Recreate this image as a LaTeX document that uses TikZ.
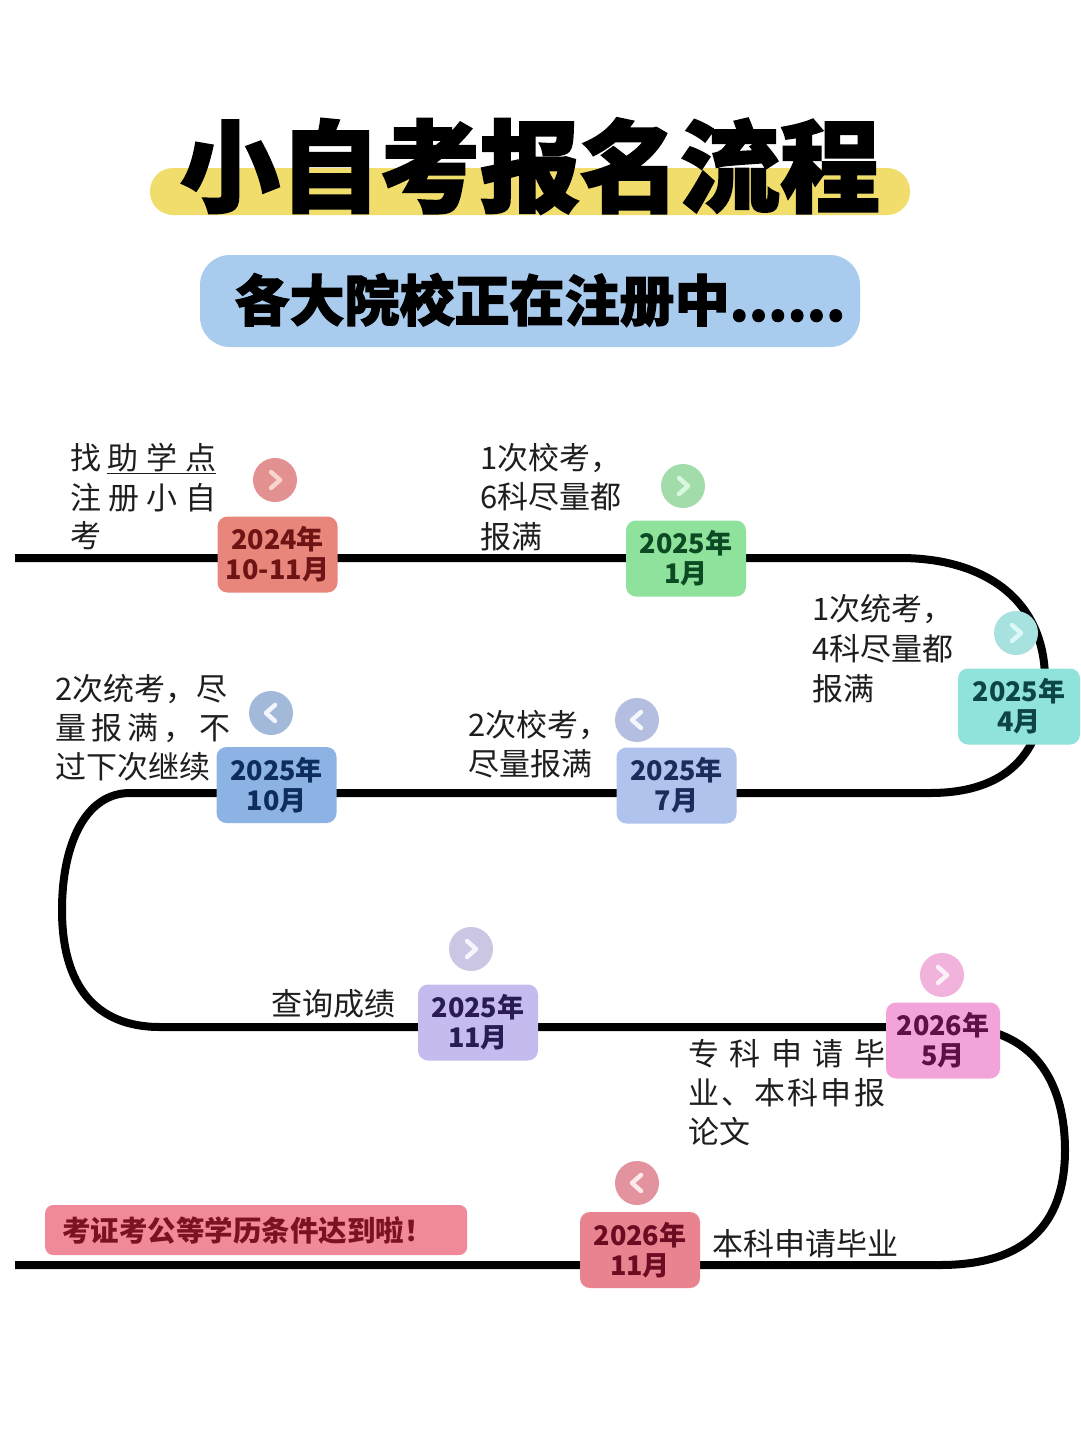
\documentclass[tikz,border=0pt]{standalone}
\usepackage{fontspec}
\setmainfont{Noto Sans CJK SC}
\newfontfamily\titlefont{Noto Sans CJK SC}[BoldFeatures={FakeBold=2}]
\definecolor{labelc}{HTML}{1E1E1E}
\definecolor{titleyellow}{HTML}{F0DD6B}
\definecolor{subblue}{HTML}{A9CCEE}
\definecolor{boxA}{HTML}{E8867C}\definecolor{txtA}{HTML}{6E1414}\definecolor{dotA}{HTML}{E29090}\definecolor{chvA}{HTML}{F8D6CE}
\definecolor{boxB}{HTML}{8EE29C}\definecolor{txtB}{HTML}{0B4A22}\definecolor{dotB}{HTML}{A2DCAA}\definecolor{chvB}{HTML}{DAF8DE}
\definecolor{boxC}{HTML}{8FE3DA}\definecolor{txtC}{HTML}{0D4444}\definecolor{dotC}{HTML}{A8E2E0}\definecolor{chvC}{HTML}{DDF8F8}
\definecolor{boxD}{HTML}{AFC3EC}\definecolor{txtD}{HTML}{1B2B5B}\definecolor{dotD}{HTML}{B3BEE0}\definecolor{chvD}{HTML}{F4F6FC}
\definecolor{boxE}{HTML}{8DB3E5}\definecolor{txtE}{HTML}{0E2C5E}\definecolor{dotE}{HTML}{A3B9D9}\definecolor{chvE}{HTML}{F2F6FC}
\definecolor{boxF}{HTML}{C5BBEF}\definecolor{txtF}{HTML}{2B1B55}\definecolor{dotF}{HTML}{CAC6E4}\definecolor{chvF}{HTML}{F6F4FC}
\definecolor{boxG}{HTML}{F2A3DA}\definecolor{txtG}{HTML}{5E0F45}\definecolor{dotG}{HTML}{F1B3DC}\definecolor{chvG}{HTML}{FCEFF8}
\definecolor{boxH}{HTML}{E8838F}\definecolor{txtH}{HTML}{6C0B22}\definecolor{dotH}{HTML}{E2939D}\definecolor{chvH}{HTML}{FBE9EC}
\definecolor{bannerc}{HTML}{F0899A}\definecolor{bannertxt}{HTML}{7A1222}
\tikzset{
  road/.style={line width=8pt, draw=black, line join=round},
  datebox/.style={rounded corners=10pt, minimum width=120pt, minimum height=76pt, inner sep=0pt, align=center, font=\bfseries\fontsize{27}{30}\selectfont},
  dotc/.style={circle, minimum size=44pt, inner sep=0pt},
  chev/.style={line width=4.5pt, line cap=round, line join=round},
  lbl/.style={anchor=base west, inner sep=0pt, text=labelc, font=\fontsize{31}{39}\selectfont},
}
\newcommand{\chevR}[2]{\draw[chev, draw=#2] ([shift={(-4,-8)}]#1.center) -- ([shift={(5,0)}]#1.center) -- ([shift={(-4,8)}]#1.center);}
\newcommand{\chevL}[2]{\draw[chev, draw=#2] ([shift={(4,-8)}]#1.center) -- ([shift={(-5,0)}]#1.center) -- ([shift={(4,8)}]#1.center);}
\begin{document}
\begin{tikzpicture}[x=1pt,y=-1pt]
\useasboundingbox[fill=white] (0,0) rectangle (1080,1440);
% title
\node (band) [fill=titleyellow, rounded corners=23pt, minimum width=760pt, minimum height=47pt, inner sep=0pt] at (530,191.5) {};
\node (title) [inner sep=0pt, font=\titlefont\bfseries\fontsize{100}{100}\selectfont] at (530,166) {小自考报名流程};
\node (sub) [fill=subblue, rounded corners=30pt, minimum width=660pt, minimum height=92pt, inner sep=0pt] at (530,301) {};
\node (subtxt) [inner sep=0pt, font=\titlefont\bfseries\fontsize{55}{55}\selectfont] at (540,300) {各大院校正在注册中......};
% road
\draw[road] (15,558) -- (900,558) .. controls (985,558) and (1045,600) .. (1045,680)
  .. controls (1045,755) and (1005,793) .. (930,793) -- (130,793)
  .. controls (85,793) and (62,845) .. (62,910)
  .. controls (62,985) and (95,1027) .. (160,1027) -- (960,1027)
  .. controls (1040,1030) and (1065,1090) .. (1065,1150)
  .. controls (1065,1225) and (1025,1265) .. (940,1265) -- (15,1265);
% date boxes
\node (b1) [datebox, fill=boxA, text=txtA] at (277.5,554.5) {2024年\\10-11月};
\node (b2) [datebox, fill=boxB, text=txtB] at (686,558.5) {2025年\\1月};
\node (b3) [datebox, fill=boxC, text=txtC, minimum width=122pt] at (1019,706.5) {2025年\\4月};
\node (b4) [datebox, fill=boxD, text=txtD] at (676.5,785.5) {2025年\\7月};
\node (b5) [datebox, fill=boxE, text=txtE] at (276.5,785) {2025年\\10月};
\node (b6) [datebox, fill=boxF, text=txtF] at (478,1022.5) {2025年\\11月};
\node (b7) [datebox, fill=boxG, text=txtG, minimum width=114pt] at (943,1040.5) {2026年\\5月};
\node (b8) [datebox, fill=boxH, text=txtH] at (640,1250) {2026年\\11月};
% dots
\node (d1) [dotc, fill=dotA] at (275,480) {}; \chevR{d1}{chvA}
\node (d2) [dotc, fill=dotB] at (683,486) {}; \chevR{d2}{chvB}
\node (d3) [dotc, fill=dotC] at (1016,633) {}; \chevR{d3}{chvC}
\node (d4) [dotc, fill=dotD] at (637,720) {}; \chevL{d4}{chvD}
\node (d5) [dotc, fill=dotE] at (271,713) {}; \chevL{d5}{chvE}
\node (d6) [dotc, fill=dotF] at (471,949) {}; \chevR{d6}{chvF}
\node (d7) [dotc, fill=dotG] at (942,975) {}; \chevR{d7}{chvG}
\node (d8) [dotc, fill=dotH] at (637,1183) {}; \chevL{d8}{chvH}
% labels
\node (l1a) [lbl] at (70,469) {\makebox[146pt][l]{找\hfill\underline{\makebox[109pt][l]{助\hfill 学\hfill 点}}}};
\node (l1b) [lbl] at (70,509) {\makebox[146pt][l]{注\hfill 册\hfill 小\hfill 自}};
\node (l1c) [lbl] at (70,547) {考};
\node (l2a) [lbl] at (480,469) {1次校考，};
\node (l2b) [lbl] at (480,508) {6科尽量都};
\node (l2c) [lbl] at (480,548) {报满};
\node (l3a) [lbl] at (812,620) {1次统考，};
\node (l3b) [lbl] at (812,660) {4科尽量都};
\node (l3c) [lbl] at (812,700) {报满};
\node (l4a) [lbl] at (55,700) {2次统考，尽};
\node (l4b) [lbl] at (55,739) {\makebox[175pt][l]{量\hfill 报\hfill 满\hfill ，\hfill 不}};
\node (l4c) [lbl] at (55,778) {过下次继续};
\node (l5a) [lbl] at (468,736) {2次校考，};
\node (l5b) [lbl] at (468,775) {尽量报满};
\node (l6) [lbl, anchor=base east] at (396,1015) {查询成绩};
\node (l7a) [lbl] at (688,1065) {\makebox[197pt][l]{专\hfill 科\hfill 申\hfill 请\hfill 毕}};
\node (l7b) [lbl] at (688,1104) {\makebox[197pt][l]{业\hfill 、\hfill 本\hfill 科\hfill 申\hfill 报}};
\node (l7c) [lbl] at (688,1143) {论文};
\node (l8) [lbl] at (712,1255) {本科申请毕业};
% banner
\node (banner) [anchor=west, fill=bannerc, rounded corners=8pt, minimum height=50pt, inner xsep=17pt, inner ysep=0pt, text width=388pt, align=left, text=bannertxt, font=\bfseries\fontsize{28.5}{30}\selectfont] at (45,1230) {考证考公等学历条件达到啦！};
\end{tikzpicture}
\end{document}
